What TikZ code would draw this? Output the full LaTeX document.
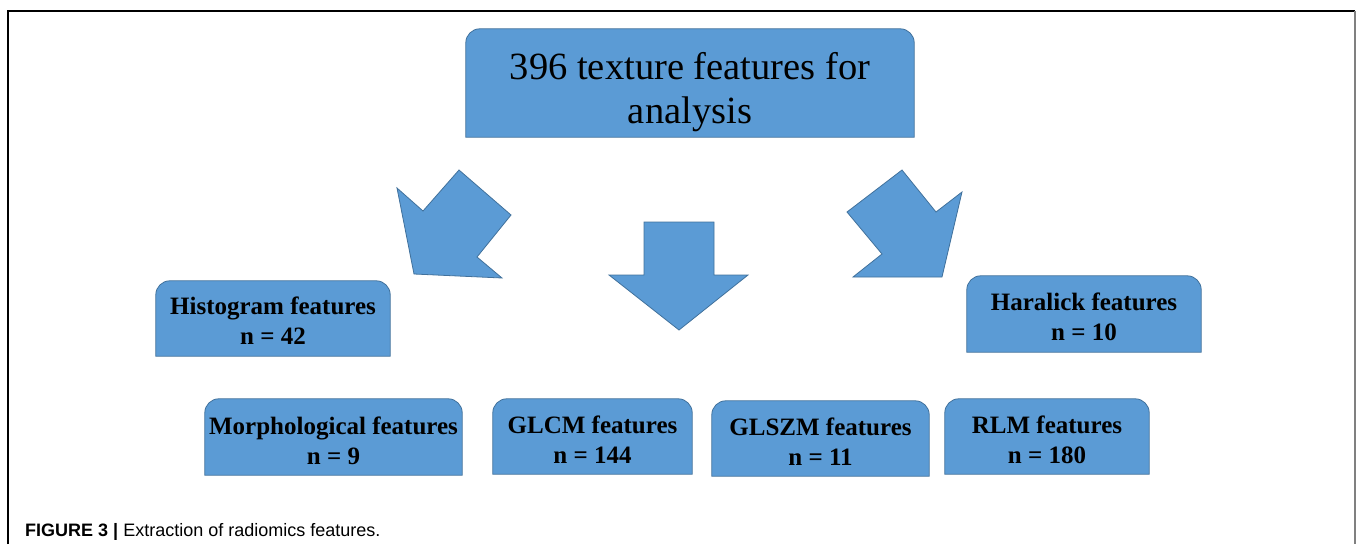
\documentclass[tikz,border=0pt]{standalone}
\usepackage{fontspec}
\setmainfont{Liberation Serif}
\newfontfamily\capfont{Liberation Sans}
\usetikzlibrary{backgrounds}
\definecolor{blockfill}{HTML}{5B9BD5}
\definecolor{blockedge}{HTML}{41719C}
\tikzset{
  featbox/.style={align=center,font=\fontsize{25}{30}\selectfont\bfseries,inner sep=0pt},
  blockshape/.style={fill=blockfill,draw=blockedge,line width=0.8pt},
}
\begin{document}
\begin{tikzpicture}[x=1pt,y=-1pt]
  \useasboundingbox (0,0) rectangle (1357,544);
  % frame
  \draw[line width=1.2pt] (8,544) -- (8,11) -- (1355,11);
  \draw[gray,line width=1.5pt] (1355,11) -- (1355,544);

  % text sits a little below the middle of each box
  \node[featbox,font=\fontsize{38.5}{44}\selectfont,minimum width=448pt,minimum height=108pt] (total) at (690,92)
    {396 texture features for\\analysis};
  \node[featbox,minimum width=234pt,minimum height=75pt] (hist) at (273,320.5) {Histogram features\\n = 42};
  \node[featbox,minimum width=234pt,minimum height=76pt] (hara) at (1084,317) {Haralick features\\n = 10};
  \node[featbox,minimum width=257pt,minimum height=76pt] (morph) at (333.5,440.5) {Morphological features\\n = 9};
  \node[featbox,minimum width=199pt,minimum height=75pt] (glcm) at (592.5,440) {GLCM features\\n = 144};
  \node[featbox,minimum width=217pt,minimum height=75pt] (glszm) at (820.5,441.5) {GLSZM features\\n = 11};
  \node[featbox,minimum width=204pt,minimum height=75pt] (rlm) at (1047,439.5) {RLM features\\n = 180};

  \begin{scope}[on background layer]
    \foreach \b/\d in {total/9,hist/2,hara/3,morph/3.5,glcm/3.5,glszm/3,rlm/3}
      \draw[blockshape] ([yshift=\d pt]\b.south west) -- ([yshift=\d pt-14pt]\b.north west)
        arc[start angle=180,end angle=90,radius=14pt] -- ([xshift=-14pt,yshift=\d pt]\b.north east)
        arc[start angle=90,end angle=0,radius=14pt] -- ([yshift=\d pt]\b.south east) -- cycle;
  \end{scope}

  % block arrows
  \draw[blockshape] (397,188) -- (423,211) -- (459,170) -- (511,215) -- (477,257) -- (502,278) -- (414,274) -- cycle;
  \draw[blockshape] (644,222) -- (714,222) -- (714,275) -- (748,275) -- (679,330) -- (609,275) -- (644,275) -- cycle;
  \draw[blockshape] (847,212) -- (902,170) -- (936,212) -- (962,192) -- (942,277) -- (853,277) -- (882,254) -- cycle;

  \node[anchor=base west,font=\capfont\fontsize{18}{21}\selectfont,inner sep=0pt] (caption) at (25,536)
    {\textbf{FIGURE 3 |} Extraction of radiomics features.};
\end{tikzpicture}
\end{document}
